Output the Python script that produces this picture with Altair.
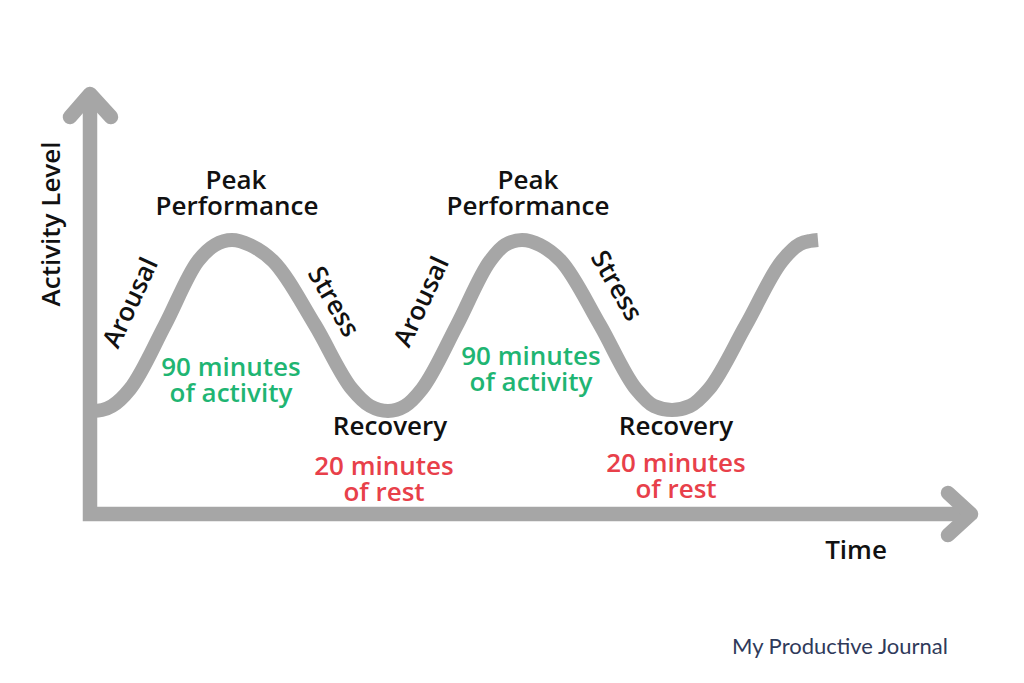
import altair as alt
import pandas as pd

# Wave (time -> activity level) (pixel-like units, y grows downward)
wave_x = [92, 102, 112, 130, 165, 198, 215, 232, 250, 273, 315, 352, 370, 388, 405, 422,
          457, 490, 505, 522, 540, 561, 600, 636, 654, 672, 690, 709, 746, 782, 800, 810, 818]
wave_y = [411, 410, 406, 389, 325, 261, 245, 240, 245, 261, 325, 389, 406, 411, 406, 389,
          325, 261, 245, 240, 245, 261, 325, 389, 406, 410, 406, 389, 325, 261, 244, 241, 240]

# Axes (shaft polyline + two arrow heads)
axis_x = [90, 90, 970]
axis_y = [94, 514, 514]
head_up_x = [70, 90, 111]
head_up_y = [117, 94, 117]
head_right_x = [948, 971, 948]
head_right_y = [493, 514, 535]

# Annotations
labels = ["Activity Level", "Time",
          "Peak", "Performance", "Peak", "Performance",
          "Arousal", "Arousal", "Stress", "Stress",
          "Recovery", "Recovery",
          "90 minutes", "of activity", "90 minutes", "of activity",
          "20 minutes", "of rest", "20 minutes", "of rest"]
label_x = [52, 856, 236, 237, 528, 528, 131, 422, 333, 616, 390, 676,
           231, 231, 531, 531, 384, 384, 676, 676]
label_y = [224, 551, 181, 207, 181, 207, 303, 302, 302, 286, 427, 427,
           368, 394, 357, 383, 467, 493, 464, 490]
label_angle = [270, 0, 0, 0, 0, 0, 295, 295, 60, 60, 0, 0,
               0, 0, 0, 0, 0, 0, 0, 0]
label_kind = ["black"] * 12 + ["green"] * 4 + ["red"] * 4

brand = "My Productive Journal"
brand_x, brand_y = [840], [647]

GRAY = "#a6a6a6"

xs = alt.Scale(domain=[8, 1008])
ys = alt.Scale(domain=[8, 668], reverse=True)
X = lambda: alt.X("x:Q", scale=xs, axis=None)
Y = lambda: alt.Y("y:Q", scale=ys, axis=None)

wave_df = pd.DataFrame({"x": wave_x, "y": wave_y, "i": range(len(wave_x))})
wave = alt.Chart(wave_df).mark_line(
    color=GRAY, strokeWidth=14, interpolate="monotone", strokeCap="butt"
).encode(x=X(), y=Y(), order="i:Q")

axis_df = pd.DataFrame({"x": axis_x, "y": axis_y, "i": range(3)})
axes = alt.Chart(axis_df).mark_line(
    color=GRAY, strokeWidth=14.5, strokeJoin="miter", strokeCap="butt"
).encode(x=X(), y=Y(), order="i:Q")

heads_df = pd.DataFrame({
    "x": head_up_x + head_right_x,
    "y": head_up_y + head_right_y,
    "g": ["up"] * 3 + ["right"] * 3,
    "i": [0, 1, 2, 0, 1, 2],
})
heads = alt.Chart(heads_df).mark_line(
    color=GRAY, strokeWidth=14.5, strokeJoin="round", strokeCap="round"
).encode(x=X(), y=Y(), detail="g:N", order="i:Q")

lab_df = pd.DataFrame({"text": labels, "x": label_x, "y": label_y,
                       "angle": label_angle, "kind": label_kind})
texts = alt.Chart(lab_df).mark_text(
    font="Open Sans", fontSize=26, fontWeight=600, align="center", baseline="middle"
).encode(
    x=X(), y=Y(), text="text:N", angle=alt.Angle("angle:Q", scale=None),
    color=alt.Color("kind:N", scale=alt.Scale(domain=["black", "green", "red"],
                                               range=["#111111", "#1fb573", "#e8404a"]),
                    legend=None),
)

brand_df = pd.DataFrame({"text": [brand], "x": brand_x, "y": brand_y})
brand_t = alt.Chart(brand_df).mark_text(
    font="Lato", fontSize=22, color="#2f3a5a", align="center", baseline="middle"
).encode(x=X(), y=Y(), text="text:N")

chart = alt.layer(wave, axes, heads, texts, brand_t).properties(
    width=1000, height=660, autosize=alt.AutoSizeParams(type="none"), padding=0,
    background="transparent"
).configure_view(strokeOpacity=0, strokeWidth=0)

chart.save("out.html", embed_options={"renderer": "svg", "actions": False})
